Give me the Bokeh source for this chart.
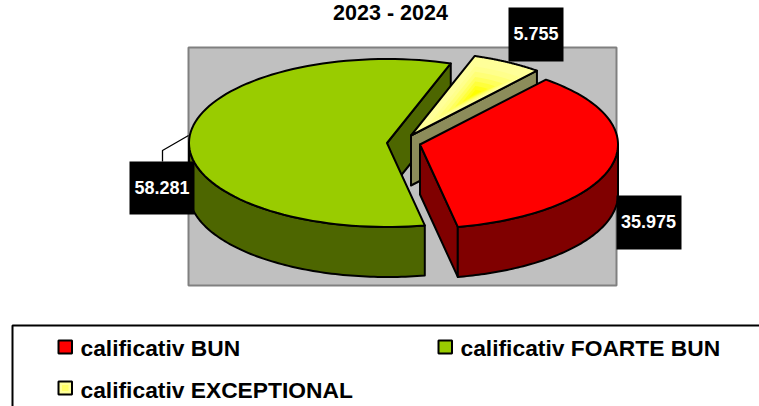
import numpy as np
from bokeh.plotting import figure
from bokeh.embed import file_html
from bokeh.resources import INLINE
from bokeh.core.properties import value

# ---- data ----
title_text = "2023 - 2024"
categories = ["calificativ BUN", "calificativ FOARTE BUN", "calificativ EXCEPTIONAL"]
values = [35.975, 58.281, 5.755]
value_labels = ["35.975", "58.281", "5.755"]
top_colors = ["#FF0000", "#99CC00", "#FFFF99"]
side_colors = ["#800000", "#4D6600", "#8C8C5A"]

# ---- layout (page pixels) ----
W, H = 759, 406
A, B, DEPTH = 198.0, 84.0, 50.0
START_DEG = 50.5               # where the first slice starts, going clockwise
CENTRES = [(419.5, 144), (386.5, 142.5), (410.5, 135)]
FONT = value("Liberation Sans")

p = figure(width=W, height=H, x_range=(0, W), y_range=(H, 0),
           toolbar_location=None, output_backend="svg", min_border=0,
           outline_line_color=None, background_fill_color="white", border_fill_color="white")
p.axis.visible = False
p.grid.visible = False

def arc(c, t0, t1, n=90):
    t = np.radians(np.linspace(t0, t1, n))
    return c[0] + A * np.cos(t), c[1] - B * np.sin(t)

# plot area
p.quad(left=188, right=616, top=47, bottom=285, fill_color="#C0C0C0", line_color="#808080", line_width=2)

# slice angles from the values
total = sum(values)
spans = [v / total * 360 for v in values]
angles = []
a = START_DEG
for s in spans:
    angles.append((a, a - s))
    a -= s

LW = 2
def poly(xs, ys, fill):
    p.patch(list(xs), list(ys), fill_color=fill, line_color="black", line_width=LW, line_join="round")

def cut_face(c, t, fill):
    x1, y1 = arc(c, t, t, 1)
    poly([c[0], x1[0], x1[0], c[0]], [c[1], y1[0], y1[0] + DEPTH, c[1] + DEPTH], fill)

def rim(c, t0, t1, fill):
    # the outer wall, only where it faces the viewer (lower half of the ellipse)
    x, y = arc(c, t0, t1)
    poly(np.r_[x, x[::-1]], np.r_[y, (y + DEPTH)[::-1]], fill)

def top(c, t0, t1):
    x, y = arc(c, t0, t1)
    return np.r_[c[0], x], np.r_[c[1], y]

# green
c = CENTRES[1]; t0, t1 = angles[1]
cut_face(c, t1, side_colors[1])
rim(c, t0, -180, side_colors[1])
xs, ys = top(c, t0, t1)
poly(xs, ys, top_colors[1])

# yellow with a soft glow
c = CENTRES[2]; t0, t1 = angles[2]
cut_face(c, t1, side_colors[2])
xs, ys = top(c, t0, t1)
poly(xs, ys, top_colors[2])
gx, gy = 475.0, 93.0
for f, col in zip([0.72, 0.58, 0.44, 0.32, 0.2, 0.1],
                  ["#FFFF8C", "#FFFF77", "#FFFF5C", "#FFFF3C", "#FFFF1C", "#FFFF00"]):
    p.patch(list(gx + (xs - gx) * f), list(gy + (ys - gy) * f), fill_color=col, line_color=None)

# red
c = CENTRES[0]; t0, t1 = angles[0]
cut_face(c, t1, side_colors[0])
rim(c, t1, 0, side_colors[0])
xs, ys = top(c, t0, t1)
poly(xs, ys, top_colors[0])

# leader line
p.line([188, 162, 162], [135, 150, 161], line_color="black", line_width=1.3)

# data labels
label_boxes = [(616, 681, 195, 249), (129, 194, 161, 214), (508, 563, 7, 61)]
label_pos = [(648, 221), (161.5, 187), (535.5, 33)]
for (l, r, t, b), (tx, ty), lab in zip(label_boxes, label_pos, value_labels):
    p.quad(left=l, right=r, top=t, bottom=b, fill_color="black", line_color=None)
    p.text([tx], [ty], text=[lab], text_color="white", text_font=FONT,
           text_font_style="bold", text_font_size="18px", text_align="center", text_baseline="middle")

# title
p.text([390], [12], text=[title_text], text_color="black", text_font=FONT, text_font_style="bold",
       text_font_size="21.5px", text_align="center", text_baseline="middle")

# legend
p.quad(left=12, right=900, top=325, bottom=600, fill_color="white", line_color="black", line_width=2)
key_pos = [(58, 340), (438, 340), (58, 381)]
text_pos = [(80, 347), (460, 347), (80, 389)]
for (x, y), (tx, ty), name, col in zip(key_pos, text_pos, categories, top_colors):
    p.quad(left=x, right=x + 13.5, top=y, bottom=y + 13, fill_color=col, line_color="black", line_width=2)
    p.text([tx], [ty], text=[name], text_color="black", text_font=FONT, text_font_style="bold",
           text_font_size="22.8px", text_align="left", text_baseline="middle")
x, y = key_pos[2]
p.quad(left=x + 3.5, right=x + 10, top=y + 3.5, bottom=y + 9.5, fill_color="#FFFF66", line_color=None)

open("out.html", "w").write(file_html(p, INLINE))
